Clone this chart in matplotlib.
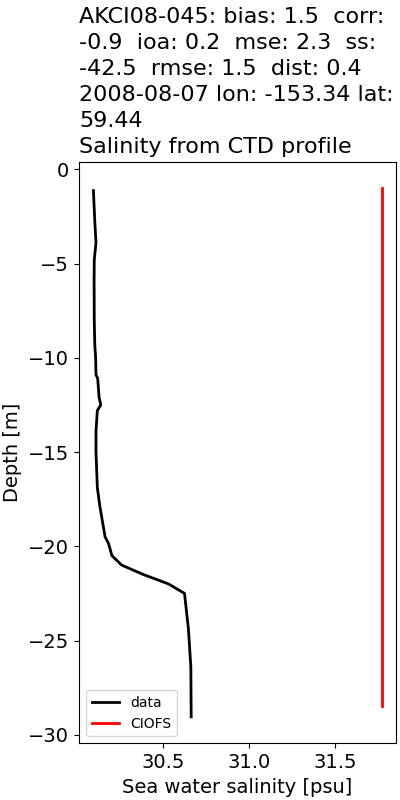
import matplotlib
matplotlib.use('Agg')
from matplotlib import pyplot as plt

# CTD profile
depth = [-1.13, -2.75, -3.9, -4.8, -5.9, -8.0, -9.3, -10.0, -10.9, -11.1, -12.1,
         -12.5, -12.8, -13.9, -15.0, -16.9, -17.9, -19.5, -19.85, -20.5, -21.0,
         -21.5, -22.0, -22.5, -24.4, -26.4, -29.05]
salinity = [30.092, 30.100, 30.107, 30.097, 30.096, 30.097, 30.100, 30.105, 30.107,
            30.117, 30.125, 30.135, 30.115, 30.107, 30.107, 30.115, 30.130, 30.160,
            30.180, 30.200, 30.257, 30.383, 30.530, 30.623, 30.646, 30.660, 30.662]

# model profile
model_depth = [-1.0, -28.5]
model_salinity = [31.772, 31.772]

title = ('AKCI08-045: bias: 1.5  corr:\n-0.9  ioa: 0.2  mse: 2.3  ss:\n'
         '-42.5  rmse: 1.5  dist: 0.4\n2008-08-07 lon: -153.34 lat:\n59.44\n'
         'Salinity from CTD profile')

plt.rcParams['font.size'] = 14

fig = plt.figure(figsize=(4, 8), dpi=100)
ax = fig.add_axes([0.1975, 0.0709, 0.7925, 0.727])
ax.plot(salinity, depth, 'k-', lw=2, label='data')
ax.plot(model_salinity, model_depth, 'r-', lw=2, label='CIOFS')
ax.set_xlabel('Sea water salinity [psu]')
ax.set_ylabel('Depth [m]')
ax.set_title(title, loc='left', fontsize=16, linespacing=1.38)
ax.legend(loc='lower left', fontsize=10)

fig.savefig('out.png')
